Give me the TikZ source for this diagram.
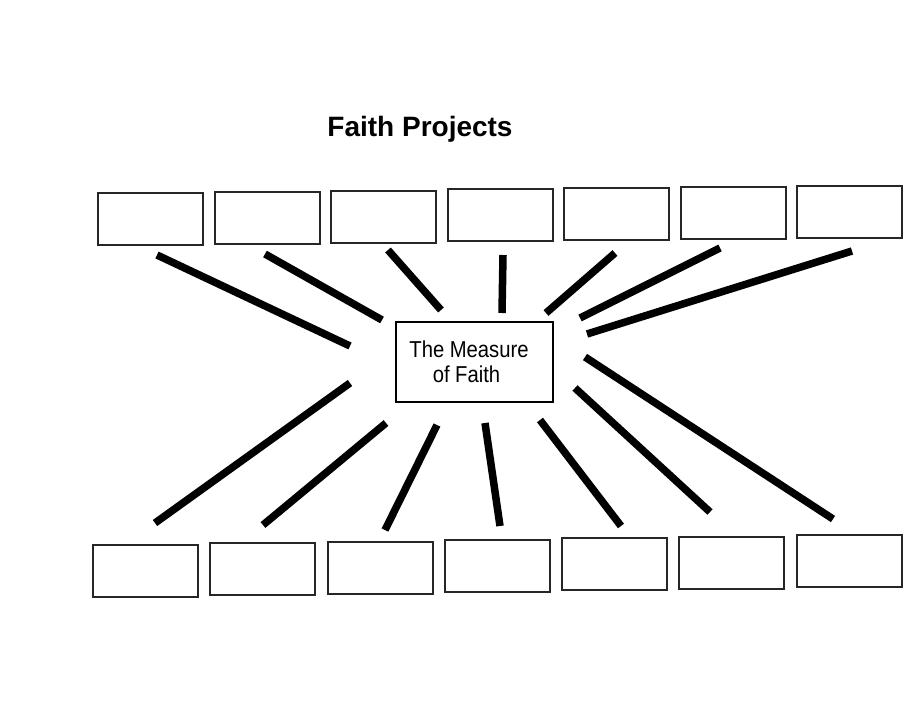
\documentclass[tikz,border=0pt]{standalone}
\usepackage{fontspec}
\setmainfont{Liberation Sans}
\newfontfamily\boxfont[FakeStretch=0.88]{Liberation Sans}
\usetikzlibrary{positioning}

\begin{document}
\begin{tikzpicture}[x=1pt, y=-1pt, blank box/.style={rectangle, draw=black!85, line width=2pt, outer sep=0pt, minimum width=105pt, minimum height=52pt}, main node/.style={rectangle, draw, line width=2pt, minimum width=157pt, minimum height=80pt, align=center, font=\boxfont\fontsize{23}{25}\selectfont}, spoke/.style={line width=7.5pt}]

  \useasboundingbox (0,0) rectangle (920,710);

  % Define nodes
  \node[anchor=base, font=\fontsize{28}{34}\selectfont\bfseries] (title) at (420,136) {Faith Projects};
  \node[main node] (m) at (474.5,362) {The Measure\hspace*{11pt}\\of Faith\hspace*{16pt}};

  % top row
  \node[blank box] (t1) at (150.5,219) {};
  \foreach \i [count=\j from 2] in {1,...,6}
    \node[blank box, right=11.5pt of t\i, yshift=1.25pt] (t\j) {};

  % bottom row
  \node[blank box] (b1) at (145.5,571) {};
  \foreach \i [count=\j from 2] in {1,...,6}
    \node[blank box, right=12.25pt of b\i, yshift=1.67pt] (b\j) {};

  % Define spokes (free lines round the middle box)
  \foreach \xa/\ya/\xb/\yb [count=\k] in {157/255/350/346, 265/254/382/320, 388/250/441/310, 503/255/502/313, 615/253/546/313, 720/248/580/318, 852/251/587/334, 350/383/155/523, 386/423/263/525, 437/425/385/530, 485/423/500/526, 540/420/621/526, 575/388/710/512, 585/357/833/519} {
    \coordinate (sa\k) at (\xa,\ya);
    \coordinate (sb\k) at (\xb,\yb);
    \draw[spoke] (sa\k) -- (sb\k);
  }
\end{tikzpicture}
\end{document}
